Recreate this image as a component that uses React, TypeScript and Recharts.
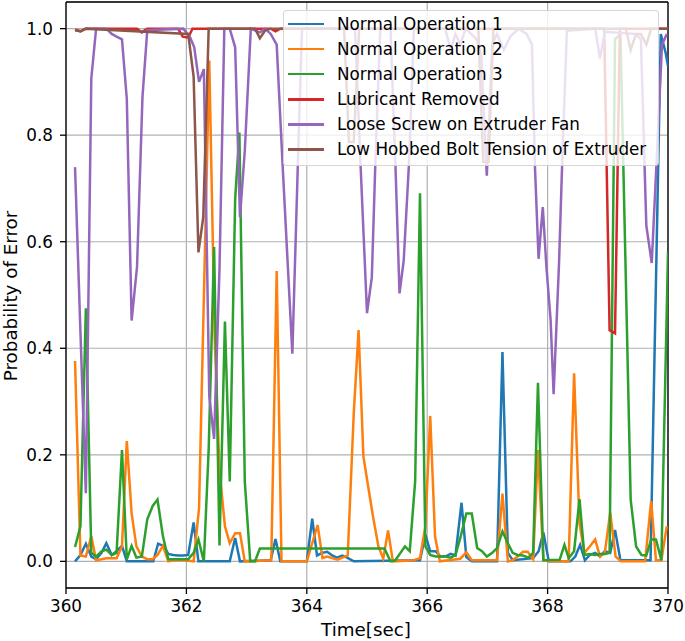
import React from 'react';
import { LineChart, Line, XAxis, YAxis, CartesianGrid, Legend, ReferenceLine, Label } from 'recharts';

type Pt = [number, number];

const normalOp1: Pt[] = [
  [360.15, 0.0], [360.24, 0.012], [360.33, 0.033], [360.42, 0.009], [360.5, 0.004], [360.59, 0.016],
  [360.67, 0.034], [360.76, 0.012], [360.84, 0.019], [360.93, 0.029], [361.01, 0.0], [361.45, 0.0],
  [361.53, 0.033], [361.62, 0.029], [361.7, 0.014], [361.78, 0.012], [361.87, 0.011], [361.95, 0.011],
  [362.03, 0.012], [362.12, 0.073], [362.2, 0.0], [362.72, 0.0], [362.81, 0.044], [362.89, 0.0],
  [363.4, 0.002], [363.48, 0.042], [363.56, 0.0], [364.0, 0.0], [364.09, 0.08], [364.17, 0.011],
  [364.25, 0.016], [364.34, 0.018], [364.42, 0.011], [364.5, 0.007], [364.59, 0.011], [364.67, 0.007],
  [364.78, 0.0], [365.88, 0.002], [365.97, 0.05], [366.05, 0.019], [366.14, 0.019], [366.22, 0.009],
  [366.3, 0.009], [366.39, 0.014], [366.47, 0.011], [366.57, 0.11], [366.65, 0.008], [366.74, 0.0],
  [367.16, 0.0], [367.25, 0.393], [367.34, 0.016], [367.42, 0.002], [367.76, 0.006], [367.85, 0.019],
  [367.93, 0.054], [368.02, 0.0], [368.38, 0.0], [368.46, 0.009], [368.54, 0.031], [368.62, 0.002],
  [368.7, 0.012], [368.79, 0.016], [368.87, 0.009], [368.95, 0.019], [369.04, 0.016], [369.12, 0.059],
  [369.21, 0.002], [369.71, 0.002], [369.88, 0.99], [369.96, 0.955], [370.0, 0.93],
];

const normalOp2: Pt[] = [
  [360.15, 0.376], [360.24, 0.011], [360.33, 0.009], [360.42, 0.047], [360.5, 0.002], [360.59, 0.004],
  [360.67, 0.006], [360.84, 0.006], [360.93, 0.028], [361.01, 0.226], [361.09, 0.09], [361.17, 0.028],
  [361.26, 0.009], [361.35, 0.004], [361.44, 0.004], [361.52, 0.012], [361.61, 0.029], [361.7, 0.0],
  [361.78, 0.002], [361.95, 0.002], [362.12, 0.0], [362.21, 0.1], [362.38, 0.94], [362.47, 0.42],
  [362.55, 0.17], [362.64, 0.066], [362.72, 0.034], [362.81, 0.053], [362.89, 0.053], [362.97, 0.0],
  [363.41, 0.002], [363.5, 0.545], [363.58, 0.0], [364.0, 0.0], [364.09, 0.034], [364.18, 0.068],
  [364.26, 0.006], [364.34, 0.009], [364.42, 0.006], [364.51, 0.003], [364.59, 0.007], [364.68, 0.011],
  [364.78, 0.278], [364.86, 0.434], [364.94, 0.197], [365.02, 0.14], [365.1, 0.084], [365.19, 0.028],
  [365.27, 0.005], [365.35, 0.058], [365.43, 0.0], [365.78, 0.002], [365.88, 0.006], [365.97, 0.066],
  [366.05, 0.273], [366.13, 0.047], [366.21, 0.0], [366.55, 0.005], [366.65, 0.017], [366.74, 0.002],
  [367.16, 0.002], [367.25, 0.127], [367.34, 0.0], [367.42, 0.002], [367.5, 0.009], [367.59, 0.018],
  [367.67, 0.018], [367.76, 0.004], [367.84, 0.209], [367.93, 0.003], [368.02, 0.0], [368.35, 0.0],
  [368.44, 0.353], [368.53, 0.072], [368.61, 0.016], [368.7, 0.028], [368.79, 0.041], [368.87, 0.009],
  [368.95, 0.016], [369.04, 0.092], [369.13, 0.009], [369.22, 0.0], [369.62, 0.0], [369.72, 0.113],
  [369.8, 0.002], [369.89, 0.002], [369.98, 0.066],
];

const normalOp3: Pt[] = [
  [360.15, 0.027], [360.24, 0.066], [360.33, 0.475], [360.42, 0.016], [360.5, 0.009], [360.59, 0.019],
  [360.67, 0.022], [360.76, 0.012], [360.84, 0.016], [360.93, 0.209], [361.01, 0.004], [361.09, 0.029],
  [361.17, 0.007], [361.26, 0.009], [361.35, 0.079], [361.44, 0.104], [361.52, 0.116], [361.61, 0.047],
  [361.7, 0.004], [362.03, 0.004], [362.12, 0.016], [362.2, 0.041], [362.29, 0.0], [362.37, 0.21],
  [362.46, 0.59], [362.55, 0.03], [362.64, 0.45], [362.72, 0.15], [362.81, 0.68], [362.88, 0.805],
  [362.97, 0.15], [363.06, 0.0], [363.14, 0.0], [363.22, 0.024], [365.29, 0.024], [365.39, 0.0],
  [365.47, 0.002], [365.55, 0.015], [365.63, 0.028], [365.71, 0.019], [365.8, 0.15], [365.88, 0.691],
  [365.97, 0.028], [366.05, 0.012], [366.14, 0.009], [366.3, 0.009], [366.39, 0.007], [366.47, 0.012],
  [366.55, 0.044], [366.65, 0.09], [366.74, 0.09], [366.83, 0.025], [366.91, 0.019], [366.99, 0.009],
  [367.08, 0.016], [367.16, 0.025], [367.25, 0.056], [367.34, 0.034], [367.42, 0.016], [367.5, 0.012],
  [367.59, 0.011], [367.68, 0.007], [367.76, 0.016], [367.84, 0.335], [367.93, 0.002], [368.2, 0.003],
  [368.28, 0.031], [368.35, 0.006], [368.44, 0.019], [368.53, 0.117], [368.61, 0.012], [368.7, 0.014],
  [368.79, 0.012], [368.87, 0.014], [368.95, 0.014], [369.03, 0.016], [369.12, 0.98], [369.21, 0.99],
  [369.38, 0.116], [369.47, 0.028], [369.56, 0.012], [369.64, 0.011], [369.72, 0.041], [369.8, 0.041],
  [369.89, 0.002], [370.0, 0.58],
];

const lubricantRemoved: Pt[] = [
  [360.15, 0.998], [360.24, 0.995], [360.33, 1.0], [361.18, 1.0], [361.26, 0.993], [361.35, 1.0],
  [361.86, 1.0], [361.94, 0.985], [362.03, 0.983], [362.1, 1.0], [363.4, 1.0], [363.48, 0.995],
  [363.56, 1.0], [368.94, 1.0], [369.03, 0.434], [369.12, 0.428], [369.2, 1.0], [370.0, 1.0],
];

const looseScrew: Pt[] = [
  [360.15, 0.74], [360.24, 0.43], [360.33, 0.128], [360.42, 0.906], [360.5, 1.0], [360.67, 1.0],
  [360.76, 0.99], [360.84, 0.985], [360.93, 0.98], [361.01, 0.868], [361.09, 0.452], [361.18, 0.553],
  [361.27, 0.871], [361.35, 0.997], [361.95, 1.0], [362.06, 0.984], [362.13, 0.965], [362.21, 0.9],
  [362.29, 0.924], [362.38, 0.31], [362.46, 0.23], [362.55, 0.55], [362.63, 1.0], [362.72, 1.0],
  [362.81, 0.965], [362.89, 0.646], [362.97, 0.771], [363.07, 1.0], [363.22, 0.993], [363.31, 1.0],
  [363.4, 0.99], [363.5, 0.97], [363.6, 0.74], [363.76, 0.39], [363.85, 0.74], [363.92, 1.0],
  [364.8, 1.0], [364.89, 0.752], [365.0, 0.466], [365.08, 0.533], [365.14, 0.752], [365.22, 1.0],
  [365.39, 1.0], [365.47, 0.752], [365.54, 0.503], [365.61, 0.565], [365.7, 0.752], [365.78, 1.0],
  [366.3, 1.0], [366.39, 0.96], [366.47, 0.99], [366.55, 0.97], [366.64, 1.0], [366.82, 0.98],
  [366.9, 0.95], [366.99, 0.724], [367.08, 0.97], [367.16, 0.99], [367.27, 0.96], [367.38, 0.985],
  [367.52, 1.0], [367.65, 0.99], [367.74, 0.97], [367.79, 0.74], [367.85, 0.568], [367.92, 0.665],
  [367.98, 0.553], [368.05, 0.453], [368.1, 0.314], [368.19, 0.56], [368.24, 0.74], [368.32, 0.996],
  [368.79, 1.0], [368.87, 0.944], [368.95, 0.994], [369.46, 0.99], [369.55, 0.98], [369.64, 0.63],
  [369.73, 0.56], [369.81, 0.75], [369.9, 0.97], [369.98, 0.99],
];

const lowHobbedBolt: Pt[] = [
  [360.15, 0.997], [360.24, 0.995], [360.33, 1.0], [362.03, 0.99], [362.12, 0.91], [362.2, 0.58],
  [362.28, 0.646], [362.37, 1.0], [363.14, 1.0], [363.22, 0.982], [363.31, 0.997], [363.4, 1.0],
  [364.62, 1.0], [364.7, 0.787], [364.78, 0.787], [364.87, 1.0], [366.85, 1.0], [366.93, 0.75],
  [367.02, 0.75], [367.1, 1.0], [369.3, 1.0], [369.38, 0.96], [369.47, 0.99], [369.55, 0.99],
  [369.64, 0.97], [369.72, 1.0], [370.0, 1.0],
];

const seriesNames = [
  'Normal Operation 1',
  'Normal Operation 2',
  'Normal Operation 3',
  'Lubricant Removed',
  'Loose Screw on Extruder Fan',
  'Low Hobbed Bolt Tension of Extruder',
];
const seriesColors = ['#1f77b4', '#ff7f0e', '#2ca02c', '#d62728', '#9467bd', '#8c564b'];
const seriesData = [normalOp1, normalOp2, normalOp3, lubricantRemoved, looseScrew, lowHobbedBolt];

const xTicks = [360, 362, 364, 366, 368, 370];
const yTicks = [0, 0.2, 0.4, 0.6, 0.8, 1.0];
const xLabel = 'Time[sec]';
const yLabel = 'Probability of Error';

const FONT = '"DejaVu Sans", sans-serif';
const FS = 16.8;
const LABEL_FS = 18.3;

const renderLegend = () => (
  <div
    style={{
      boxSizing: 'border-box',
      width: '100%',
      height: '100%',
      background: 'rgba(255,255,255,0.8)',
      border: '1px solid rgba(204,204,204,0.8)',
      borderRadius: 4,
      paddingTop: 0.5,
      fontFamily: FONT,
      fontSize: FS,
      color: '#000',
    }}
  >
    {seriesNames.map((n, i) => (
      <div key={n} style={{ height: 25.1, display: 'flex', alignItems: 'center' }}>
        <div style={{ marginLeft: 4, width: 36, height: 2.5, background: seriesColors[i] }} />
        <span style={{ marginLeft: 13, whiteSpace: 'nowrap', lineHeight: 1 }}>{n}</span>
      </div>
    ))}
  </div>
);

const YLabelContent = () => (
  <text
    x={0}
    y={0}
    transform="translate(10,296) rotate(-90)"
    textAnchor="middle"
    dominantBaseline="central"
    fontFamily={FONT}
    fontSize={LABEL_FS}
    fill="#000"
  >
    {yLabel}
  </text>
);

const XLabelContent = () => (
  <text x={366} y={636} textAnchor="middle" fontFamily={FONT} fontSize={LABEL_FS} fill="#000">
    {xLabel}
  </text>
);

export default function App() {
  return (
    <div style={{ position: 'absolute', left: 0, top: 0, background: '#fff' }}>
      <LineChart width={685} height={641} margin={{ top: 2, right: 17, left: 6, bottom: 13 }}>
        <CartesianGrid stroke="#b0b0b0" strokeWidth={1.2} />
        <XAxis
          type="number"
          dataKey="t"
          domain={[360, 370]}
          ticks={xTicks}
          allowDataOverflow
          height={40}
          tickSize={6}
          tickMargin={6}
          stroke="#000"
          axisLine={{ stroke: '#000', strokeWidth: 1.3 }}
          tickLine={{ stroke: '#000', strokeWidth: 1.3 }}
          tick={{ fill: '#000', fontSize: FS, fontFamily: FONT }}
          label={<Label content={XLabelContent} />}
        />
        <YAxis
          type="number"
          domain={[-0.05, 1.05]}
          ticks={yTicks}
          allowDataOverflow
          width={60}
          tickSize={6}
          tickMargin={7}
          tickFormatter={(v: number) => v.toFixed(1)}
          axisLine={{ stroke: '#000', strokeWidth: 1.3 }}
          tickLine={{ stroke: '#000', strokeWidth: 1.3 }}
          tick={{ fill: '#000', fontSize: FS, fontFamily: FONT }}
          label={<Label content={YLabelContent} />}
        />
        <ReferenceLine y={1.05} stroke="#000" strokeWidth={1.3} />
        <ReferenceLine x={370} stroke="#000" strokeWidth={1.3} />
        {seriesData.map((s, i) => (
          <Line
            key={seriesNames[i]}
            data={s.map(([t, v]) => ({ t, v }))}
            dataKey="v"
            name={seriesNames[i]}
            type="linear"
            stroke={seriesColors[i]}
            strokeWidth={2.5}
            dot={false}
            activeDot={false}
            isAnimationActive={false}
          />
        ))}
        <Legend
          layout="horizontal"
          verticalAlign="middle"
          align="center"
          content={renderLegend}
          wrapperStyle={{ left: 283, top: 10, width: 376, height: 156 }}
        />
      </LineChart>
    </div>
  );
}
